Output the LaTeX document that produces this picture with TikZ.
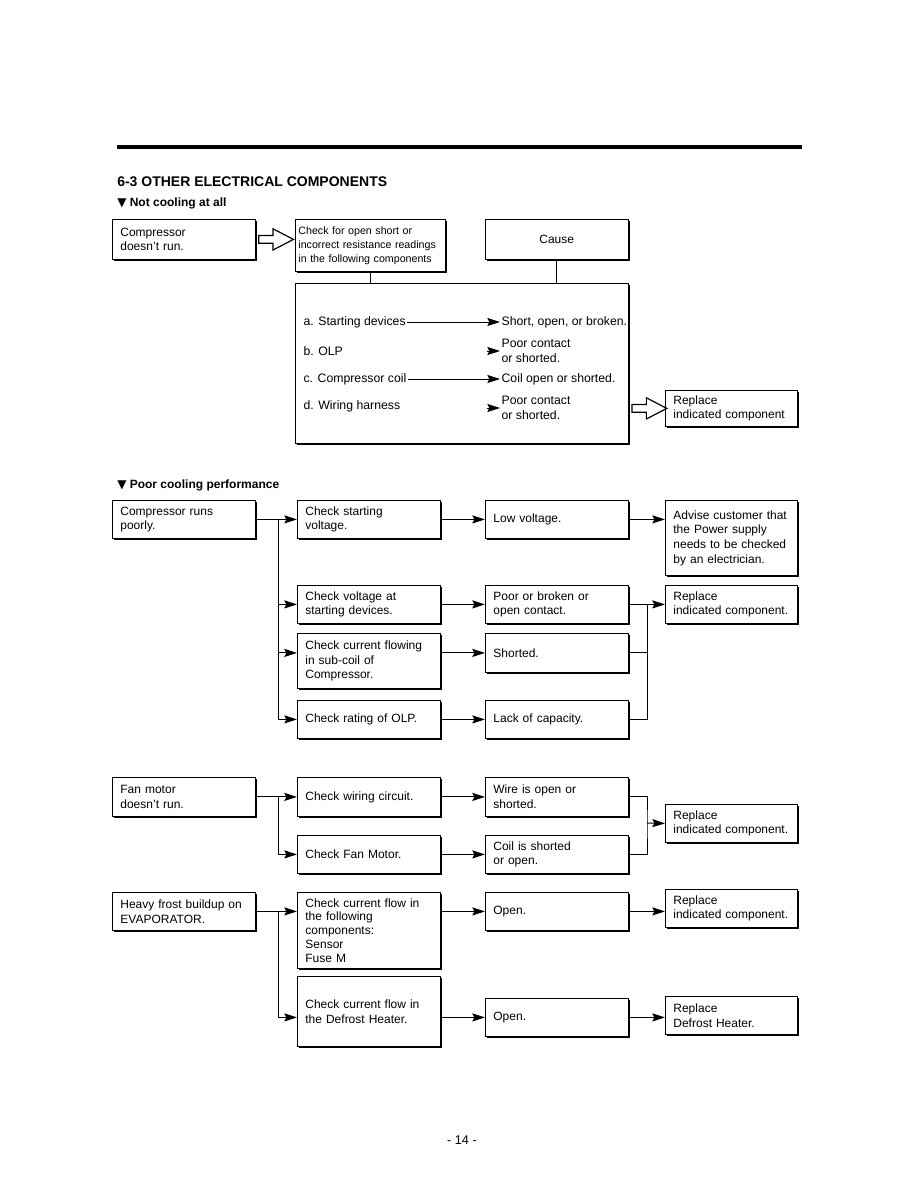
\documentclass[tikz,border=0pt]{standalone}
\usepackage{fontspec}
\setmainfont{Liberation Sans}
\newfontfamily\symfont{DejaVu Sans}
\usetikzlibrary{arrows.meta,shapes.arrows,shadows,positioning}

\begin{document}
\begin{tikzpicture}[x=0.75pt, y=-0.75pt, >={Stealth[length=9.5pt,width=6pt,inset=1.5pt]},
    box/.style={draw, fill=white, line width=0.6pt, anchor=north west,
                text width=95pt, inner xsep=6pt, inner ysep=2pt, align=left,
                font=\fontsize{9}{11}\selectfont,
                drop shadow={shadow xshift=1.5pt, shadow yshift=-1.5pt, fill=black, opacity=1}},
    rbox/.style={box, text width=87pt},
    txt/.style={anchor=west, inner sep=1pt, align=left, font=\fontsize{9.2}{11}\selectfont},
    head/.style={anchor=west, inner sep=0pt, font=\bfseries\fontsize{9}{11}\selectfont},
    hollow/.style={single arrow, draw, line width=0.9pt, fill=white, minimum height=26pt,
                   inner sep=2.5pt, single arrow head extend=5pt, single arrow tip angle=55,
                   anchor=tail},
    arrow/.style={->, line width=0.75pt},
    link/.style={line width=0.75pt}]
    \useasboundingbox (0,0) rectangle (918,1188);

    % heading
    \draw[line width=2.3pt] (117,147) -- (802,147);
    \node[head, font=\bfseries\fontsize{10.5}{12}\selectfont] (title) at (117,182) {6-3 OTHER ELECTRICAL COMPONENTS};
    \node[head] (nca) at (117,203) {{\symfont ▼} Not cooling at all};

    % not cooling at all
    \node[box, minimum height=30pt] (nocomp) at (112,219) {Compressor\\doesn't run.};
    \node[box, text width=108pt, inner xsep=2.25pt, minimum height=39pt,
          font=\fontsize{8}{10.5}\selectfont] (chkres) at (295,219)
          {Check for open short or\\\mbox{incorrect resistance readings}\\in the following components};
    \node[box, align=center, minimum height=30pt] (cause) at (485,219) {Cause};
    \node[box, text width=237.75pt, minimum height=120pt] (parts) at (295,283) {};
    \node[rbox, minimum height=27pt] (repl0) at (665,390) {Replace\\indicated component};
    \node[hollow] (h1) at ([xshift=2pt]nocomp.east) {};
    \node[hollow] (h2) at ([xshift=2pt]parts.east |- repl0.west) {};
    \draw[link] (chkres.south) -- (chkres.south |- parts.north);
    \draw[link] (cause.south) -- (cause.south |- parts.north);

    \node[txt] (pa) at (302,322) {a. Starting devices};
    \node[txt] (ra) at (500,322) {Short, open, or broken.};
    \node[txt] (pb) at (302,351) {b. OLP};
    \node[txt] (rb) at (500,351) {Poor contact\\or shorted.};
    \node[txt] (pc) at (302,379) {c. Compressor coil};
    \node[txt] (rc) at (500,379) {Coil open or shorted.};
    \node[txt] (pd) at (302,406) {d. Wiring harness};
    \node[txt] (rd) at (500,408) {Poor contact\\or shorted.};
    \draw[arrow, line width=0.6pt] (pa) -- (ra);
    \draw[arrow] ([xshift=-10pt]rb.west) -- (rb.west);
    \draw[arrow, line width=0.6pt] (pc) -- (rc);
    \draw[arrow] ([xshift=-10pt]rd.west) -- (rd.west);

    % poor cooling performance
    \node[head] (pcp) at (117,485) {{\symfont ▼} Poor cooling performance};
    \node[box, minimum height=28.5pt] (crun) at (112,500) {Compressor runs\\poorly.};
    \node[box, minimum height=28.5pt] (chkv) at (297,500) {Check starting\\voltage.};
    \node[box, minimum height=28.5pt] (lowv) at (485,500) {Low voltage.};
    \node[rbox, minimum height=56.25pt] (advise) at (665,500)
          {Advise customer that\\the Power supply\\needs to be checked\\by an electrician.};
    \node[box, minimum height=28.5pt] (chkvs) at (297,585) {Check voltage at\\starting devices.};
    \node[box, minimum height=28.5pt] (poor) at (485,585) {Poor or broken or\\open contact.};
    \node[rbox, minimum height=28.5pt] (repl1) at (665,585) {Replace\\indicated component.};
    \node[box, minimum height=41.25pt] (chkcur) at (297,633) {Check current flowing\\in sub-coil of\\Compressor.};
    \node[box, minimum height=29.25pt] (short) at (485,633) {Shorted.};
    \node[box, minimum height=28.5pt] (chkolp) at (297,700) {Check rating of OLP.};
    \node[box, minimum height=28.5pt] (lack) at (485,700) {Lack of capacity.};
    \coordinate (b1) at (278,519);
    \coordinate (m1) at (647,604);
    \draw[arrow] (crun.east) -- (chkv.west);
    \draw[arrow] (b1) |- (chkvs.west);
    \draw[arrow] (b1) |- (chkcur.west |- short.west);
    \draw[arrow] (b1) |- (chkolp.west);
    \draw[arrow] (chkv.east) -- (lowv.west);
    \draw[arrow] (lowv.east) -- (lowv.east -| advise.west);
    \draw[arrow] (chkvs.east) -- (poor.west);
    \draw[arrow] (chkcur.east |- short.west) -- (short.west);
    \draw[arrow] (chkolp.east) -- (lack.west);
    \draw[arrow] (poor.east) -- (repl1.west);
    \draw[link] (short.east) -| (m1);
    \draw[link] (lack.east) -| (m1);

    % fan motor
    \node[box, minimum height=29.25pt] (fan) at (112,777) {Fan motor\\doesn't run.};
    \node[box, minimum height=29.25pt] (chkw) at (297,777) {Check wiring circuit.};
    \node[box, minimum height=29.25pt] (wire) at (485,777) {Wire is open or\\shorted.};
    \node[box, minimum height=28.5pt] (chkfm) at (297,835) {Check Fan Motor.};
    \node[box, minimum height=28.5pt] (coil) at (485,835) {Coil is shorted\\or open.};
    \node[rbox, minimum height=28.5pt] (repl2) at (665,804) {Replace\\indicated component.};
    \coordinate (b3) at (278,796);
    \coordinate (m3) at (647,823);
    \draw[arrow] (fan.east) -- (chkw.west);
    \draw[arrow] (b3) |- (chkfm.west);
    \draw[arrow] (chkw.east) -- (wire.west);
    \draw[arrow] (chkfm.east) -- (coil.west);
    \draw[link] (wire.east) -| (m3) |- (coil.east);
    \draw[arrow] (m3) -- (repl2.west);

    % frost buildup
    \node[box, minimum height=28.5pt] (frost) at (112,892) {Heavy frost buildup on\\EVAPORATOR.};
    \node[box, minimum height=57pt, font=\fontsize{9}{10.3}\selectfont] (chkfl) at (297,892)
          {Check current flow in\\the following\\components:\\Sensor\\Fuse M};
    \node[box, minimum height=28.5pt] (open1) at (485,892) {Open.};
    \node[rbox, minimum height=28.5pt] (repl3) at (665,889) {Replace\\indicated component.};
    \node[box, minimum height=52.5pt] (chkdh) at (297,976) {Check current flow in\\the Defrost Heater.};
    \node[box, minimum height=28.5pt] (open2) at (485,998) {Open.};
    \node[rbox, minimum height=28.5pt] (repl4) at (665,996) {Replace\\Defrost Heater.};
    \coordinate (b4) at (278,911);
    \draw[arrow] (frost.east) -- (frost.east -| chkfl.west);
    \draw[arrow] (b4) |- (chkdh.west |- open2.west);
    \draw[arrow] (chkfl.east |- open1.west) -- (open1.west);
    \draw[arrow] (open1.east) -- (open1.east -| repl3.west);
    \draw[arrow] (chkdh.east |- open2.west) -- (open2.west);
    \draw[arrow] (open2.east) -- (open2.east -| repl4.west);

    \node[font=\fontsize{9.5}{11}\selectfont] (page) at (462,1140) {- 14 -};
\end{tikzpicture}
\end{document}
